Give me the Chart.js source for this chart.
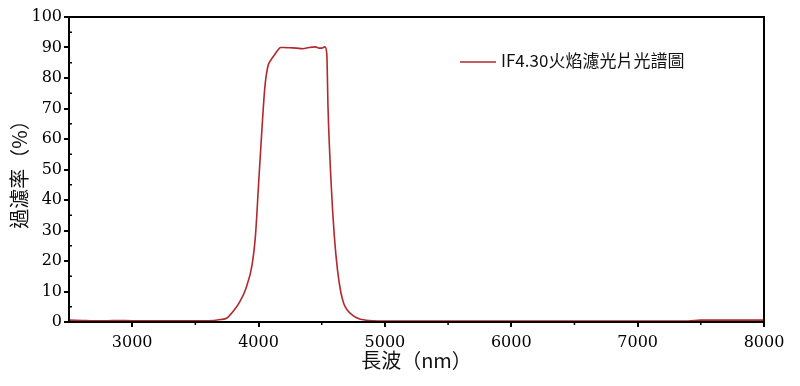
<!DOCTYPE html>
<html>
<script src="https://cdn.jsdelivr.net/npm/chart.js@4/dist/chart.umd.min.js"></script>
<style>
  html, body { margin: 0; padding: 0; background: #fff; }
  #wrap { width: 800px; height: 386px; }
</style>
<body>
<div id="wrap"><canvas id="myChart" width="800" height="386"></canvas></div>
<script>
// wavelength (nm)
const waveLen = [2500, 2600, 2700, 2800, 2900, 3000, 3200, 3400, 3600, 3700, 3750, 3800, 3850, 3900,
  3950, 3975, 4000, 4025, 4050, 4075, 4100, 4125, 4150, 4175, 4200, 4250, 4300, 4350, 4400, 4450,
  4480, 4500, 4525, 4540, 4550, 4575, 4600, 4625, 4650, 4675, 4700, 4750, 4800, 4850, 4900, 5000,
  5500, 6000, 6500, 7000, 7400, 7500, 8000];
// transmittance (%)
const transmit = [0.6, 0.5, 0.4, 0.4, 0.5, 0.4, 0.4, 0.4, 0.4, 0.8, 1.3, 3.5, 6.5, 11,
  19, 28, 45, 62, 77, 84, 86, 87.5, 89, 90, 90, 89.9, 89.8, 89.6, 90, 90.2,
  89.8, 89.8, 90.2, 88, 70, 45, 28, 17, 10, 6, 4, 2, 1, 0.6, 0.4, 0.3,
  0.3, 0.3, 0.3, 0.3, 0.3, 0.6, 0.6];
const xTicks = [3000, 4000, 5000, 6000, 7000, 8000];
const yTicks = [0, 10, 20, 30, 40, 50, 60, 70, 80, 90, 100];
const seriesName = 'IF4.30火焰濾光片光譜圖';
const lineColor = '#b3282d';

const points = waveLen.map((w, i) => ({ x: w, y: transmit[i] }));

// frame, minor ticks and the legend box sit inside the plot
const framePlugin = {
  id: 'frame',
  afterDraw(chart) {
    const ctx = chart.ctx, a = chart.chartArea;
    const xs = chart.scales.x, ys = chart.scales.y;
    ctx.save();
    ctx.strokeStyle = '#000';
    ctx.lineWidth = 2;
    ctx.strokeRect(a.left, a.top, a.right - a.left, a.bottom - a.top);
    ctx.lineWidth = 1.5;
    ctx.beginPath();
    for (let v = 5; v < 100; v += 10) {
      const y = ys.getPixelForValue(v);
      ctx.moveTo(a.left, y); ctx.lineTo(a.left + 3, y);
    }
    for (let v = 3500; v < 8000; v += 1000) {
      const x = xs.getPixelForValue(v);
      ctx.moveTo(x, a.bottom); ctx.lineTo(x, a.bottom + 3);
    }
    ctx.stroke();
    // legend
    ctx.strokeStyle = lineColor;
    ctx.lineWidth = 1.5;
    ctx.beginPath();
    ctx.moveTo(460, 62); ctx.lineTo(496, 62);
    ctx.stroke();
    ctx.fillStyle = '#111';
    ctx.font = '17px "Noto Sans CJK TC", "Noto Sans"';
    ctx.textBaseline = 'middle';
    ctx.fillText(seriesName, 501, 61);
    ctx.restore();
  }
};

new Chart('myChart', {
  type: 'scatter',
  data: {
    datasets: [{
      label: seriesName,
      data: points,
      showLine: true,
      borderColor: lineColor,
      borderWidth: 1.6,
      pointRadius: 0,
      cubicInterpolationMode: 'monotone',
    }]
  },
  options: {
    responsive: false,
    animation: false,
    layout: { padding: { left: 0, right: 36, top: 17, bottom: 0 } },
    plugins: {
      legend: { display: false },
      tooltip: { enabled: false },
    },
    scales: {
      x: {
        type: 'linear',
        min: 2500, max: 8000,
        afterBuildTicks: (s) => { s.ticks = xTicks.map(v => ({ value: v })); },
        afterFit: (s) => { s.height = 64; },
        grid: { drawOnChartArea: false, drawTicks: true, tickLength: 5, color: '#000', lineWidth: 2 },
        border: { display: true, color: '#000', width: 2 },
        ticks: { color: '#000', font: { family: 'DejaVu Serif', size: 16 }, padding: 6, maxRotation: 0,
          callback: (v) => String(v) },
        title: { display: true, text: '長波（nm）', color: '#111',
          font: { family: '"Noto Sans CJK TC"', size: 20 }, padding: { top: 0, bottom: 14 } },
      },
      y: {
        min: 0, max: 100,
        afterBuildTicks: (s) => { s.ticks = yTicks.map(v => ({ value: v })); },
        afterFit: (s) => { s.width = 69; },
        grid: { drawOnChartArea: false, drawTicks: true, tickLength: 5, color: '#000', lineWidth: 2 },
        border: { display: true, color: '#000', width: 2 },
        ticks: { color: '#000', font: { family: 'DejaVu Serif', size: 16 }, padding: 2,
          callback: (v) => String(v) },
        title: { display: true, text: '過濾率（%）', color: '#111',
          font: { family: '"Noto Sans CJK TC"', size: 20 }, padding: { top: 7, bottom: 0 } },
      }
    }
  },
  plugins: [framePlugin]
});
</script>
</body>
</html>
